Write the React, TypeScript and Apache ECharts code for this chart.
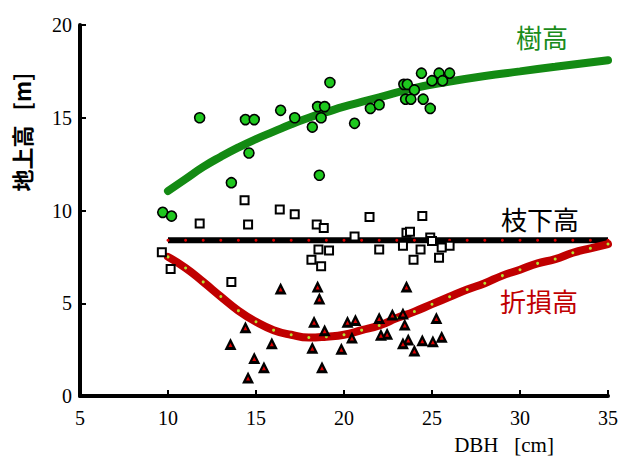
import React, { useEffect, useRef } from "react";
import * as echarts from "echarts";

// 樹高 (tree height) observations [DBH cm, height m]
const treeHeightPts: number[][] = [
  [11.8, 15.0], [14.4, 14.9], [14.9, 14.9], [16.4, 15.4], [17.2, 15.0],
  [19.2, 16.9], [18.5, 15.6], [18.9, 15.6], [18.7, 15.0], [18.2, 14.5],
  [14.6, 13.1], [13.6, 11.5], [18.6, 11.9], [20.6, 14.7], [21.5, 15.5],
  [22.0, 15.7], [23.4, 16.8], [23.6, 16.8], [24.0, 16.5], [23.5, 16.0],
  [23.8, 16.0], [24.5, 16.0], [24.9, 15.5], [24.4, 17.4], [25.0, 17.0],
  [25.4, 17.4], [25.6, 17.0], [26.0, 17.4], [9.7, 9.9], [10.2, 9.7],
];

// 枝下高 (crown base height) observations
const crownBasePts: number[][] = [
  [14.35, 10.55], [16.35, 10.05], [17.2, 9.8], [11.8, 9.3], [14.55, 9.25],
  [18.45, 9.25], [18.85, 9.05], [21.45, 9.65], [24.45, 9.7], [20.6, 8.6],
  [23.55, 8.8], [23.75, 8.85], [24.9, 8.55], [25.0, 8.35], [9.65, 7.75],
  [10.15, 6.85], [18.55, 7.9], [19.15, 7.85], [18.15, 7.35], [18.7, 7.0],
  [22.0, 7.9], [23.35, 8.1], [24.35, 7.9], [23.95, 7.35], [25.4, 7.45],
  [26.0, 8.1], [25.55, 8.0], [13.6, 6.15],
];

// 折損高 (break height) observations
const breakPts: number[][] = [
  [16.4, 5.8], [18.5, 5.9], [18.6, 5.25], [23.55, 5.9], [14.4, 3.7],
  [13.55, 2.8], [14.9, 2.05], [15.45, 1.55], [14.55, 1.0], [15.9, 2.85],
  [18.3, 4.0], [18.9, 3.55], [18.2, 2.6], [18.75, 1.55], [19.85, 2.55],
  [20.2, 4.0], [20.65, 4.1], [20.45, 3.15], [22.0, 4.2], [22.1, 3.3],
  [22.45, 3.35], [22.75, 4.4], [23.35, 4.45], [23.45, 3.85], [23.35, 2.85],
  [23.65, 3.05], [24.0, 2.45], [24.45, 3.0], [25.05, 2.95], [25.55, 3.2],
  [25.25, 4.2],
];

// fitted curves
const treeCurveX = [10, 11, 12, 13, 14, 15, 16, 17, 18, 19, 20, 21, 22, 24, 26, 28, 30, 32, 35];
const treeCurveY = [11.05, 11.7, 12.35, 12.9, 13.4, 13.85, 14.25, 14.65, 15.0, 15.3, 15.6, 15.85, 16.1, 16.6, 16.95, 17.25, 17.5, 17.75, 18.1];

const crownCurveX = [10, 11, 12, 13, 14, 15, 16, 17, 18, 19, 20, 21, 22, 23, 24, 25, 26, 27, 28, 29, 30, 31, 32, 33, 34, 35];
const crownCurveY = [8.4, 8.4, 8.4, 8.4, 8.4, 8.4, 8.4, 8.4, 8.4, 8.4, 8.4, 8.4, 8.4, 8.4, 8.4, 8.4, 8.4, 8.4, 8.4, 8.4, 8.4, 8.4, 8.4, 8.4, 8.4, 8.4];

const breakCurveX = [10, 11, 12, 13, 14, 15, 16, 17, 18, 19, 20, 21, 22, 23, 24, 25, 26, 27, 28, 29, 30, 31, 32, 33, 34, 35];
const breakCurveY = [7.5, 6.9, 6.15, 5.36, 4.6, 4.0, 3.55, 3.3, 3.15, 3.2, 3.3, 3.55, 3.8, 4.2, 4.55, 4.95, 5.35, 5.74, 6.08, 6.49, 6.81, 7.15, 7.38, 7.72, 7.96, 8.19];

const xTicks = { min: 5, max: 35, interval: 5 };
const yTicks = { min: 0, max: 20, interval: 5 };

const pair = (xs: number[], ys: number[]) => xs.map((x, i) => [x, ys[i]]);

export default function App() {
  const ref = useRef<HTMLDivElement>(null);
  useEffect(() => {
    if (!ref.current) return;
    const chart = echarts.init(ref.current, null, { renderer: "svg" });
    const serif = "Liberation Serif, serif";
    const cjk = "Noto Sans CJK JP, sans-serif";
    const axisCommon = {
      axisLine: { show: true, lineStyle: { color: "#000", width: 4 } },
      axisTick: { show: true, inside: true, length: 6, lineStyle: { color: "#000", width: 2 } },
      axisLabel: { fontFamily: serif, fontSize: 20, color: "#000" },
      splitLine: { show: false },
    };
    chart.setOption({
      animation: false,
      backgroundColor: "#fff",
      grid: { left: 80, right: 13, top: 25, bottom: 64 },
      xAxis: {
        type: "value",
        ...xTicks,
        ...axisCommon,
        axisLabel: { ...axisCommon.axisLabel, margin: 12 },
      },
      yAxis: {
        type: "value",
        ...yTicks,
        ...axisCommon,
        axisLabel: { ...axisCommon.axisLabel, margin: 8 },
      },
      series: [
        {
          type: "line",
          data: pair(crownCurveX, crownCurveY),
          symbol: "circle",
          symbolSize: 3,
          showSymbol: true,
          itemStyle: { color: "#e00000", borderWidth: 0 },
          lineStyle: { color: "#000", width: 6 },
          z: 2,
        },
        {
          type: "line",
          data: pair(breakCurveX, breakCurveY),
          smooth: true,
          symbol: "circle",
          symbolSize: 3,
          showSymbol: true,
          itemStyle: { color: "#b4e432", borderWidth: 0 },
          lineStyle: { color: "#c00000", width: 8, cap: "round" },
          z: 3,
        },
        {
          type: "line",
          data: pair(treeCurveX, treeCurveY),
          smooth: true,
          symbol: "none",
          lineStyle: { color: "#138a13", width: 8, cap: "round" },
          z: 3,
        },
        {
          type: "scatter",
          data: treeHeightPts,
          symbol: "circle",
          symbolSize: 10,
          itemStyle: { color: "#1ec81e", borderColor: "#000", borderWidth: 1.6, opacity: 1 },
          z: 5,
        },
        {
          type: "scatter",
          data: crownBasePts,
          symbol: "rect",
          symbolSize: 8,
          itemStyle: { color: "#fff", borderColor: "#000", borderWidth: 2, opacity: 1 },
          z: 5,
        },
        {
          type: "scatter",
          data: breakPts,
          symbol: "triangle",
          symbolSize: 12,
          itemStyle: { color: "#000", opacity: 1 },
          z: 5,
        },
        {
          type: "scatter",
          data: breakPts,
          symbol: "triangle",
          symbolSize: 4,
          symbolOffset: [0, 1],
          itemStyle: { color: "#e00000", opacity: 1 },
          z: 6,
        },
      ],
      graphic: [
        {
          type: "text",
          x: 542,
          y: 36,
          style: { text: "樹高", font: `26px ${cjk}`, fill: "#1a8c1a", textAlign: "center", textVerticalAlign: "middle" },
        },
        {
          type: "text",
          x: 540,
          y: 218,
          style: { text: "枝下高", font: `26px ${cjk}`, fill: "#000", textAlign: "center", textVerticalAlign: "middle" },
        },
        {
          type: "text",
          x: 539,
          y: 300,
          style: { text: "折損高", font: `26px ${cjk}`, fill: "#c00000", textAlign: "center", textVerticalAlign: "middle" },
        },
        {
          type: "text",
          x: 21,
          y: 132,
          rotation: Math.PI / 2,
          style: { text: "地上高   [m]", font: `bold 22px ${cjk}`, fill: "#000", textAlign: "center", textVerticalAlign: "middle" },
        },
        {
          type: "text",
          x: 504,
          y: 445,
          style: { text: "DBH   [cm]", font: `21px ${serif}`, fill: "#000", textAlign: "center", textVerticalAlign: "middle" },
        },
      ],
    });
    return () => chart.dispose();
  }, []);
  return (
    <div
      ref={ref}
      style={{ position: "fixed", left: 0, top: 0, width: 621, height: 460 }}
    />
  );
}
